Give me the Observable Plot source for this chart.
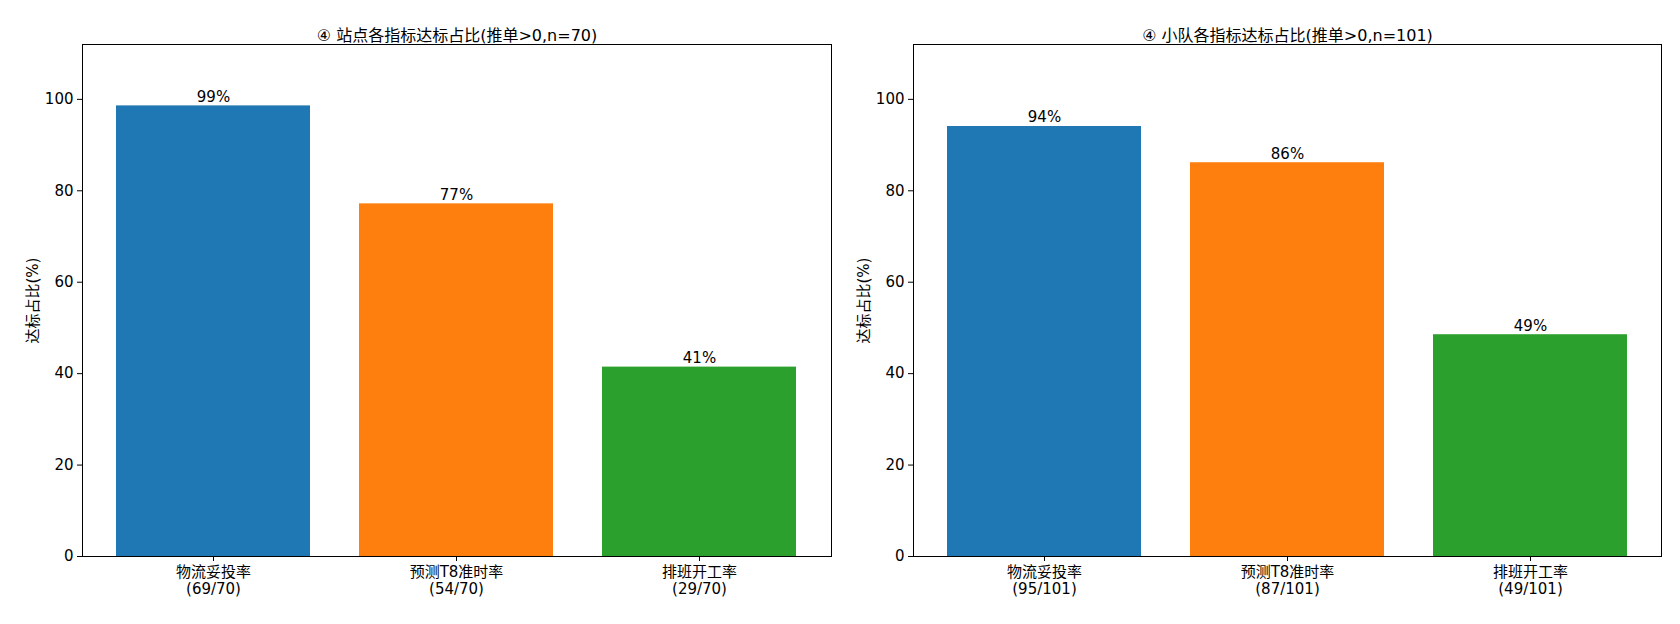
<!DOCTYPE html>
<html><head><meta charset="utf-8">
<script src="https://cdn.jsdelivr.net/npm/d3@7"></script>
<script src="https://cdn.jsdelivr.net/npm/@observablehq/plot@0.6"></script>
<style>
body{margin:0;background:#fff;width:1680px;height:624px;position:relative;overflow:hidden}
.p{position:absolute;top:0}
svg{font-family:"DejaVu Sans","Noto Sans CJK SC",sans-serif}
</style></head><body>
<div id="a" class="p" style="left:0"></div>
<div id="b" class="p" style="left:840px"></div>
<script>
const categories = ["物流妥投率","预测T8准时率","排班开工率"];
const colors = ["#1f77b4","#ff7f0e","#2ca02c"];
const stationHit = [69,54,29], stationN = 70;
const teamHit = [95,87,49], teamN = 101;
const titles = ["④ 站点各指标达标占比(推单>0,n=70)","④ 小队各指标达标占比(推单>0,n=101)"];

function chart(hit, n, title, ml, mr){
  const data = categories.map((c,i)=>({c, v: hit[i]/n*100, lab: c+"\n("+hit[i]+"/"+n+")", col: colors[i]}));
  const labMap = new Map(data.map(d=>[d.c,d.lab]));
  return Plot.plot({
    width: 840, height: 624, marginLeft: ml, marginRight: mr, marginTop: 44, marginBottom: 68,
    style:{fontSize:"15px", fontFamily:'"DejaVu Sans","Noto Sans CJK SC",sans-serif', color:"#000"},
    x:{domain: categories, paddingInner:0.2, paddingOuter:0.137, label:null},
    y:{domain:[0,112], label:null},
    marks:[
      Plot.barY(data,{x:"c", y:"v", fill:"col"}),
      Plot.text(data,{x:"c", y:"v", text:d=>Math.round(d.v)+"%", dy:-9, fontSize:15, fill:"#000"}),
      Plot.axisX({tickSize:5, tickPadding:4, tickFormat:d=>labMap.get(d), fontSize:15, lineHeight:1.1}),
      Plot.axisY({ticks:[0,20,40,60,80,100], tickSize:5, fontSize:15, label:"达标占比(%)", labelAnchor:"center", labelArrow:"none", labelOffset:55}),
      Plot.frame({stroke:"#000"}),
      Plot.text([title],{frameAnchor:"top", dy:-15, fontSize:16, fill:"#000"})
    ]
  });
}
document.getElementById("a").append(chart(stationHit, stationN, titles[0], 82, 9));
document.getElementById("b").append(chart(teamHit, teamN, titles[1], 73, 19));
</script></body></html>
